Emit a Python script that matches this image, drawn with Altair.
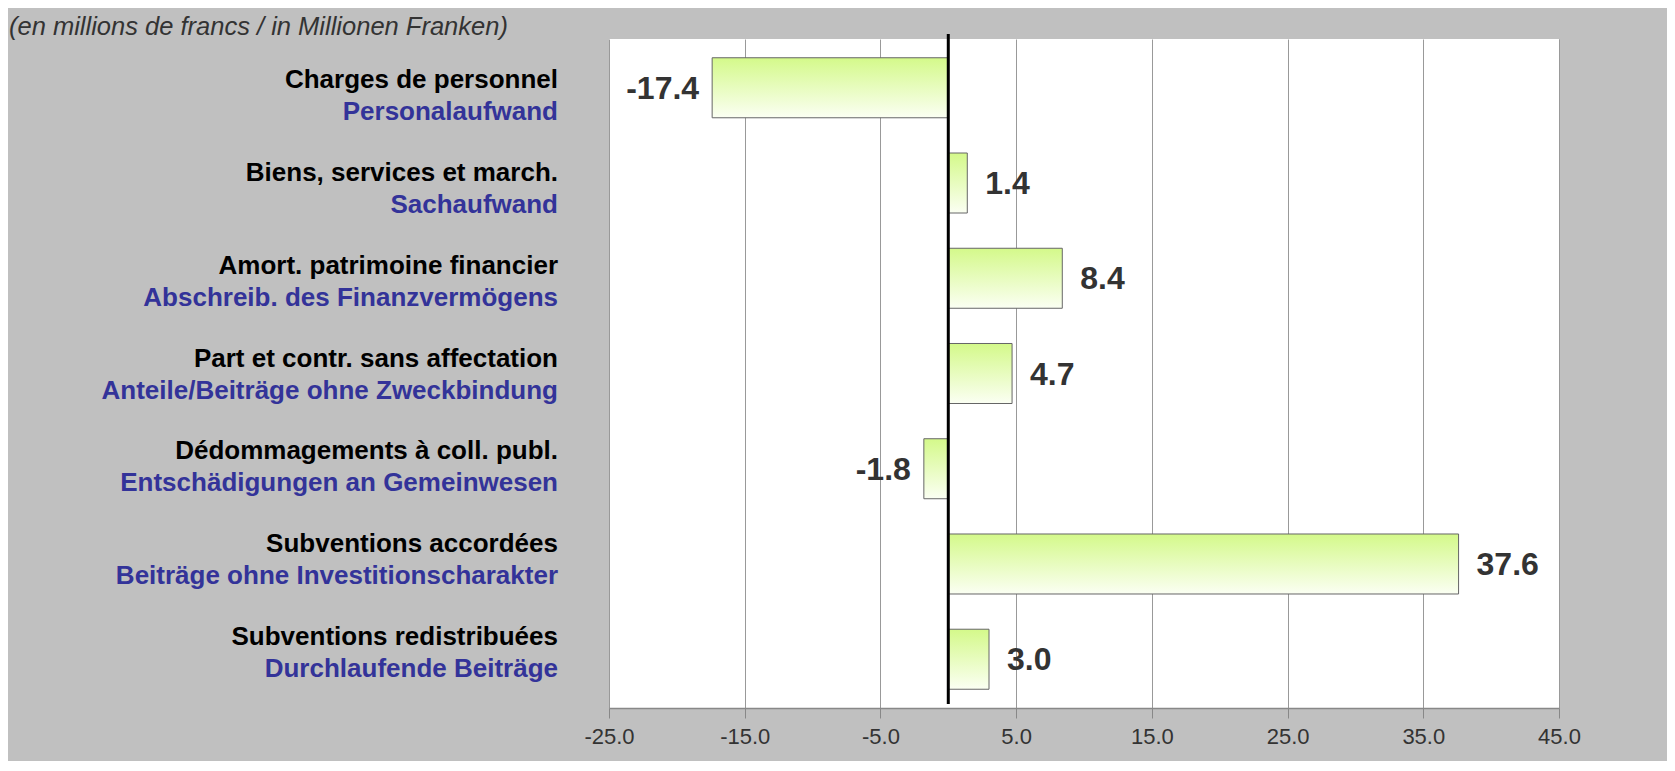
import altair as alt
import pandas as pd

# ---- data ----
labels_fr = [
    "Charges de personnel",
    "Biens, services et march.",
    "Amort. patrimoine financier",
    "Part et contr. sans affectation",
    "Dédommagements à coll. publ.",
    "Subventions accordées",
    "Subventions redistribuées",
]
labels_de = [
    "Personalaufwand",
    "Sachaufwand",
    "Abschreib. des Finanzvermögens",
    "Anteile/Beiträge ohne Zweckbindung",
    "Entschädigungen an Gemeinwesen",
    "Beiträge ohne Investitionscharakter",
    "Durchlaufende Beiträge",
]
values = [-17.4, 1.4, 8.4, 4.7, -1.8, 37.6, 3.0]
x_ticks = [-25, -15, -5, 5, 15, 25, 35, 45]
x_domain = [-25, 45]
subtitle = "(en millions de francs / in Millionen Franken)"

df = pd.DataFrame({
    "key": labels_fr,
    "fr": labels_fr,
    "de": labels_de,
    "value": values,
    "label": [f"{v:.1f}" for v in values],
})

FONT = "Liberation Sans"
W, H = 950, 669

y_band = alt.Y("key:N", sort=labels_fr, axis=None,
               scale=alt.Scale(paddingInner=0.37, paddingOuter=0.197))
x_enc = alt.X(
    "value:Q",
    scale=alt.Scale(domain=x_domain, nice=False, zero=False),
    axis=alt.Axis(values=x_ticks, title=None, grid=True,
                  labelExpr="(datum.value < 0 ? '-' : '') + format(abs(datum.value), '.1f')",
                  labelFlush=False, labelOverlap=False,
                  gridColor="#999999", gridWidth=1, domainColor="#888888",
                  domainWidth=1.5, tickColor="#888888", tickSize=10,
                  tickWidth=1, labelPadding=8, labelFontSize=22,
                  labelColor="#333333", labelFont=FONT),
)

gradient = alt.Gradient(
    gradient="linear",
    stops=[alt.GradientStop(color="#d4f98a", offset=0),
           alt.GradientStop(color="#fbfff3", offset=1)],
    x1=0, x2=0, y1=0, y2=1,
)

base = alt.Chart(df)

bars = base.mark_bar(fill=gradient, stroke="#666666", strokeWidth=1).encode(
    x=x_enc, x2=alt.datum(0), y=y_band
)

pos_labels = base.transform_filter("datum.value >= 0").mark_text(
    align="left", baseline="middle", dx=18, dy=1, fontSize=32,
    fontWeight="bold", color="#333333", font=FONT
).encode(x="value:Q", y=y_band, text="label:N")

neg_labels = base.transform_filter("datum.value < 0").mark_text(
    align="right", baseline="middle", dx=-13, dy=1, fontSize=32,
    fontWeight="bold", color="#333333", font=FONT
).encode(x="value:Q", y=y_band, text="label:N")

zero_rule = alt.Chart(pd.DataFrame({"z": [0]})).mark_rule(
    color="black", strokeWidth=3
).encode(x="z:Q", y=alt.value(-5), y2=alt.value(H - 4))

plot = alt.layer(bars, zero_rule, pos_labels, neg_labels)

y_point = alt.Y("key:N", sort=labels_fr, axis=None,
                scale=alt.Scale(type="point", range=[49, 606], padding=0))

fr_text = base.mark_text(
    align="right", baseline="alphabetic", fontSize=26, fontWeight="bold",
    color="#000000", font=FONT
).encode(x=alt.value(-51), y=y_point, text="fr:N")

de_text = base.mark_text(
    align="right", baseline="alphabetic", dy=32, fontSize=26,
    fontWeight="bold", color="#333399", font=FONT
).encode(x=alt.value(-51), y=y_point, text="de:N")

labels = alt.layer(fr_text, de_text)

title = alt.Chart(pd.DataFrame({"t": [subtitle]})).mark_text(
    align="left", baseline="middle", fontSize=25.5, fontStyle="italic",
    color="#333333", font=FONT
).encode(x=alt.value(-600), y=alt.value(-12), text="t:N")

chart = alt.layer(plot, labels, title).resolve_scale(y="independent").properties(
    width=W, height=H,
    autosize=alt.AutoSizeParams(type="none"),
    padding={"left": 601, "top": 31, "right": 108, "bottom": 53},
    background="#c0c0c0",
).configure_view(fill="white", stroke=None)

chart.save("out.html", embed_options={"renderer": "svg", "actions": False})
